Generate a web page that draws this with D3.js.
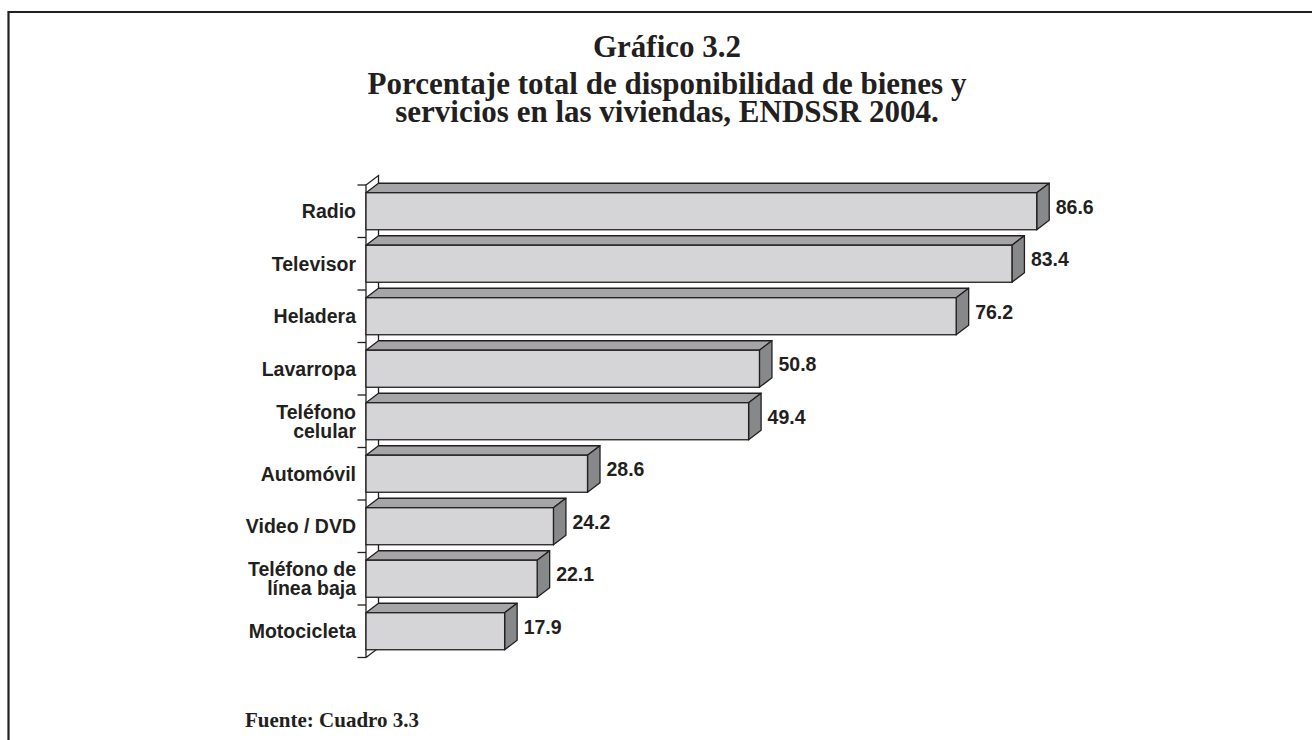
<!DOCTYPE html>
<html><head><meta charset="utf-8">
<script src="https://cdn.jsdelivr.net/npm/d3@7"></script>
<style>html,body{margin:0;padding:0;background:#fff;}svg{display:block;}</style>
</head><body>
<svg id="c" width="1312" height="740"></svg>
<script>
const categories = [["Radio"],["Televisor"],["Heladera"],["Lavarropa"],["Teléfono","celular"],["Automóvil"],["Video / DVD"],["Teléfono de","línea baja"],["Motocicleta"]];
const values = [86.6, 83.4, 76.2, 50.8, 49.4, 28.6, 24.2, 22.1, 17.9];
const titleLines = ["Gráfico 3.2","Porcentaje total de disponibilidad de bienes y","servicios en las viviendas, ENDSSR 2004."];
const source = "Fuente: Cuadro 3.3";

const svg = d3.select("#c");
const ink = "#231f20";
// frame
svg.append("path").attr("d","M8.5,742 L8.5,12 L1314,12").attr("fill","none").attr("stroke",ink).attr("stroke-width",2.2);

// titles
const tb = [56.7, 94, 122];
svg.selectAll("text.title").data(titleLines).join("text").attr("class","title")
  .attr("x",667).attr("y",(d,i)=>tb[i]).attr("text-anchor","middle")
  .attr("font-family","'Liberation Serif','Times New Roman',serif").attr("font-weight","bold")
  .attr("font-size",31).attr("fill",ink).text(d=>d);

const x0 = 366;
const x = d3.scaleLinear().domain([0,100]).range([x0, x0 + 774.5]);
const idx = categories.map((d,i)=>i);
const y = d3.scaleBand().domain(idx).range([185, 657.5]).paddingInner(0.295).paddingOuter(0.1475);
const dx = 12.5, dy = 9.5;
const step = y.step();
const top0 = 185, bot0 = 657.5;

const g = svg.append("g");
// wall
g.append("path").attr("d",`M${x0},${bot0} L${x0},${top0} L${x0+dx},${top0-dy} L${x0+dx},${bot0-dy} L${x0},${bot0}`)
  .attr("fill","none").attr("stroke",ink).attr("stroke-width",1.3);
// ticks
const bounds = d3.range(categories.length+1).map(i=>top0 + i*step);
g.selectAll("line.tick").data(bounds).join("line").attr("class","tick")
  .attr("x1",x0-8.5).attr("x2",x0).attr("y1",d=>d).attr("y2",d=>d)
  .attr("stroke",ink).attr("stroke-width",1.3);

// bars
const bars = g.selectAll("g.bar").data(values).join("g").attr("class","bar");
bars.each(function(v,i){
  const s = d3.select(this);
  const yt = y(i), yb = y(i)+y.bandwidth(), xr = x(v);
  s.append("path").attr("d",`M${x0},${yt} L${x0+dx},${yt-dy} L${xr+dx},${yt-dy} L${xr},${yt} Z`)
    .attr("fill","#a5a5a7").attr("stroke",ink).attr("stroke-width",1.3).attr("stroke-linejoin","round");
  s.append("path").attr("d",`M${xr},${yt} L${xr+dx},${yt-dy} L${xr+dx},${yb-dy} L${xr},${yb} Z`)
    .attr("fill","#87888a").attr("stroke",ink).attr("stroke-width",1.3).attr("stroke-linejoin","round");
  s.append("rect").attr("x",x0).attr("y",yt).attr("width",xr-x0).attr("height",yb-yt)
    .attr("fill","#d5d5d7").attr("stroke",ink).attr("stroke-width",1.3);
});

// value labels
g.selectAll("text.val").data(values).join("text").attr("class","val")
  .attr("x",(d)=>x(d)+dx+6.5)
  .attr("y",(d,i)=>y(i)+y.bandwidth()/2 - dy/2 + 7)
  .attr("font-family","'Liberation Sans',Arial,sans-serif").attr("font-weight","bold")
  .attr("font-size",19.5).attr("fill",ink).text(d=>d.toFixed(1));

// category labels
const cl = g.selectAll("text.cat").data(categories).join("text").attr("class","cat")
  .attr("text-anchor","end")
  .attr("font-family","'Liberation Sans',Arial,sans-serif").attr("font-weight","bold")
  .attr("font-size",19.5).attr("fill",ink);
cl.each(function(d,i){
  const c = y(i)+y.bandwidth()/2;
  const n = d.length, lh = 19.3;
  d.forEach((t,j)=>{
    d3.select(this).append("tspan").attr("x",356).attr("y", c + 7 + (j-(n-1)/2)*lh).text(t);
  });
});

// source
svg.append("text").attr("x",245).attr("y",727)
  .attr("font-family","'Liberation Serif','Times New Roman',serif").attr("font-weight","bold")
  .attr("font-size",21).attr("fill",ink).text(source);
</script>
</body></html>
